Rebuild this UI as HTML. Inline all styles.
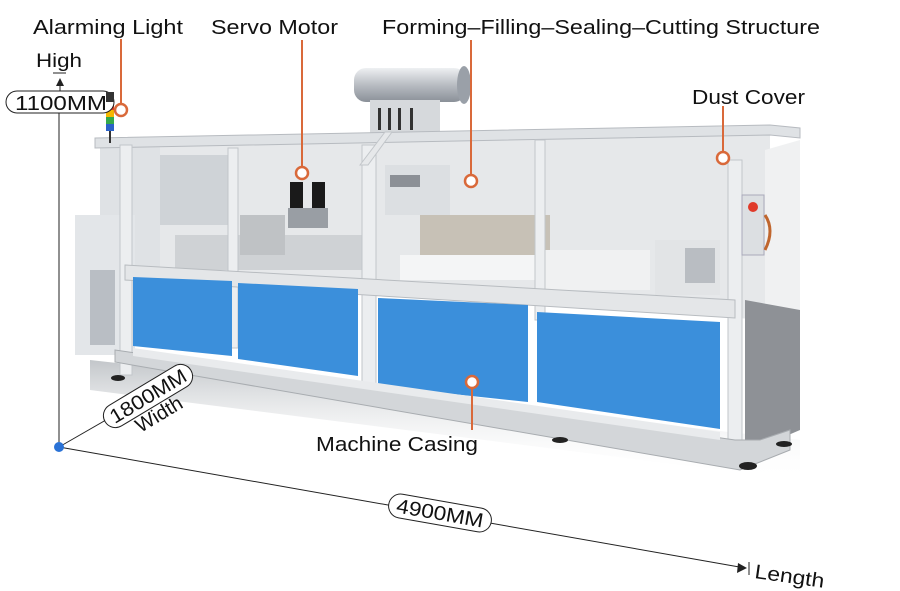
<!DOCTYPE html>
<html><head><meta charset="utf-8"><style>
html,body{margin:0;padding:0;background:#fff;}
svg{display:block;}
text{font-family:"Liberation Sans",sans-serif;}
</style></head><body>
<svg width="900" height="591" viewBox="0 0 900 591" xmlns="http://www.w3.org/2000/svg">
<defs>
<linearGradient id="pipe" x1="0" y1="0" x2="0" y2="1"><stop offset="0" stop-color="#eef0f2"/><stop offset="0.5" stop-color="#b8bcc2"/><stop offset="1" stop-color="#8a9098"/></linearGradient>
<linearGradient id="shadow" x1="0" y1="0" x2="0" y2="1"><stop offset="0" stop-color="#9aa0a6"/><stop offset="1" stop-color="#fff" stop-opacity="0"/></linearGradient>
</defs>
<polygon points="90,360 800,440 800,480 90,390" fill="url(#shadow)" opacity="0.6"/>
<rect x="354" y="68" width="112" height="34" rx="12" fill="url(#pipe)"/>
<ellipse cx="464" cy="85" rx="7" ry="19" fill="#9aa0a8"/>
<rect x="370" y="100" width="70" height="38" fill="#d6d9dc"/>
<rect x="378" y="108" width="3" height="22" fill="#333"/><rect x="388" y="108" width="3" height="22" fill="#333"/><rect x="398" y="108" width="3" height="22" fill="#333"/><rect x="410" y="108" width="3" height="22" fill="#333"/>
<polygon points="120,145 770,130 770,320 120,280" fill="#e6e8ea"/>
<polygon points="100,145 160,145 160,270 100,270" fill="#dfe2e5"/>
<rect x="160" y="155" width="70" height="70" fill="#cfd3d7"/>
<rect x="75" y="215" width="60" height="140" fill="#e3e6e9"/>
<rect x="90" y="270" width="25" height="75" fill="#b9bec4"/>
<rect x="175" y="235" width="190" height="35" fill="#cfd2d5"/>
<rect x="240" y="215" width="45" height="40" fill="#bfc2c5"/>
<rect x="290" y="182" width="13" height="28" fill="#1a1a1a"/><rect x="312" y="182" width="13" height="28" fill="#1a1a1a"/>
<rect x="288" y="208" width="40" height="20" fill="#999ea4"/>
<rect x="385" y="165" width="65" height="50" fill="#dcdfe2"/>
<rect x="390" y="175" width="30" height="12" fill="#8c9096"/>
<rect x="420" y="215" width="130" height="40" fill="#c7c1b6"/>
<rect x="400" y="255" width="160" height="25" fill="#f4f5f6"/>
<rect x="540" y="250" width="110" height="40" fill="#f0f1f2"/>
<rect x="655" y="240" width="65" height="55" fill="#e2e4e6"/>
<rect x="685" y="248" width="30" height="35" fill="#b9bdc2"/>
<polygon points="95,138 770,125 800,128 800,138 770,135 95,148" fill="#dfe2e5" stroke="#b7bbc0" stroke-width="1"/>
<rect x="120" y="145" width="12" height="230" fill="#eceef0" stroke="#c2c6ca"/>
<rect x="228" y="148" width="10" height="200" fill="#eceef0" stroke="#c2c6ca"/>
<rect x="362" y="145" width="14" height="250" fill="#eceef0" stroke="#c2c6ca"/>
<rect x="535" y="140" width="10" height="180" fill="#eceef0" stroke="#c2c6ca"/>
<polygon points="360,165 385,132 392,132 368,165" fill="#e6e8ea" stroke="#c2c6ca"/>
<polygon points="765,150 800,140 800,430 765,445" fill="#f0f1f2"/>
<polygon points="745,300 800,310 800,430 765,445 745,440" fill="#8e9196"/>
<rect x="728" y="160" width="14" height="285" fill="#eceef0" stroke="#c2c6ca"/>
<rect x="742" y="195" width="22" height="60" fill="#dcdfe2" stroke="#aab"/>
<circle cx="753" cy="207" r="5" fill="#e03a2a"/>
<path d="M765,215 q10,15 0,35" stroke="#c0662e" stroke-width="3" fill="none"/>
<polygon points="125,265 735,300 735,318 125,280" fill="#e4e6e8" stroke="#b8bcc0"/>
<polygon points="133,277 232,281 232,356 133,346" fill="#3b8fdb"/>
<polygon points="238,283 358,289 358,376 238,359" fill="#3b8fdb"/>
<polygon points="378,298 528,305 528,402 378,386" fill="#3b8fdb"/>
<polygon points="537,312 720,322 720,429 537,402" fill="#3b8fdb"/>
<polygon points="115,350 735,440 760,440 790,430 790,450 740,470 115,362" fill="#d3d6d9" stroke="#a8acb0"/>
<polygon points="133,348 720,432 720,440 133,356" fill="#e9ebed"/>
<ellipse cx="118" cy="378" rx="7" ry="3" fill="#222"/>
<ellipse cx="560" cy="440" rx="8" ry="3" fill="#222"/>
<ellipse cx="748" cy="466" rx="9" ry="4" fill="#222"/>
<ellipse cx="784" cy="444" rx="8" ry="3" fill="#222"/>
<rect x="106" y="94" width="8" height="8" fill="#333"/>
<rect x="106" y="102" width="8" height="8" fill="#e23a22"/>
<rect x="106" y="110" width="8" height="7" fill="#f5b800"/>
<rect x="106" y="117" width="8" height="7" fill="#35a94a"/>
<rect x="106" y="124" width="8" height="7" fill="#2b62c8"/>
<rect x="109" y="131" width="2" height="12" fill="#333"/>
<g stroke="#d9693a" stroke-width="2" fill="none">
<line x1="121" y1="39" x2="121" y2="104"/><circle cx="121" cy="110" r="6" fill="#fff" stroke-width="2.5"/>
<line x1="302" y1="40" x2="302" y2="167"/><circle cx="302" cy="173" r="6" fill="#fff" stroke-width="2.5"/>
<line x1="471" y1="40" x2="471" y2="175"/><circle cx="471" cy="181" r="6" fill="#fff" stroke-width="2.5"/>
<line x1="723" y1="106" x2="723" y2="152"/><circle cx="723" cy="158" r="6" fill="#fff" stroke-width="2.5"/>
<line x1="472" y1="388" x2="472" y2="430"/><circle cx="472" cy="382" r="6" fill="#fff" stroke-width="2.5"/>
</g>
<g font-size="20" fill="#111">
<text x="33" y="34" textLength="150" lengthAdjust="spacingAndGlyphs">Alarming Light</text>
<text x="211" y="34" textLength="127" lengthAdjust="spacingAndGlyphs">Servo Motor</text>
<text x="382" y="34" textLength="438" lengthAdjust="spacingAndGlyphs">Forming–Filling–Sealing–Cutting Structure</text>
<text x="692" y="104" textLength="113" lengthAdjust="spacingAndGlyphs">Dust Cover</text>
<text x="316" y="451" textLength="162" lengthAdjust="spacingAndGlyphs">Machine Casing</text>
<text x="36" y="67" font-size="19" textLength="46" lengthAdjust="spacingAndGlyphs">High</text>
</g>
<line x1="53" y1="73" x2="66" y2="73" stroke="#222"/>
<polygon points="56,86 64,86 60,78" fill="#222"/>
<line x1="60" y1="86" x2="60" y2="91" stroke="#222"/>
<rect x="6" y="91" width="108" height="22" rx="11" fill="#fff" stroke="#222"/>
<text x="15" y="110" font-size="20" fill="#111" textLength="92" lengthAdjust="spacingAndGlyphs">1100MM</text>
<rect x="106" y="92" width="8" height="10" fill="#333"/>
<line x1="59" y1="113" x2="59" y2="447" stroke="#222"/>
<line x1="59" y1="447" x2="172" y2="382" stroke="#222"/>
<polygon points="168,378 180,378 174,386" fill="#222"/>
<line x1="59" y1="447" x2="745" y2="568" stroke="#222"/>
<polygon points="747,568 738,563 737,573" fill="#222"/>
<line x1="749" y1="562" x2="749" y2="575" stroke="#222"/>
<circle cx="59" cy="447" r="5" fill="#2a72d6"/>
<g transform="translate(148,396) rotate(-31)">
<rect x="-50" y="-12" width="100" height="24" rx="12" fill="#fff" stroke="#222"/>
<text x="0" y="7" text-anchor="middle" font-size="20" fill="#111" textLength="86" lengthAdjust="spacingAndGlyphs">1800MM</text>
<text x="0" y="28" text-anchor="middle" font-size="20" fill="#111">Width</text>
</g>
<g transform="translate(440,513) rotate(10)">
<rect x="-52" y="-12" width="104" height="24" rx="12" fill="#fff" stroke="#222"/>
<text x="0" y="7" text-anchor="middle" font-size="20" fill="#111" textLength="88" lengthAdjust="spacingAndGlyphs">4900MM</text>
</g>
<text x="754" y="578" font-size="20" fill="#111" transform="rotate(8 754 578)" textLength="70" lengthAdjust="spacingAndGlyphs">Length</text>
</svg>
</body></html>
